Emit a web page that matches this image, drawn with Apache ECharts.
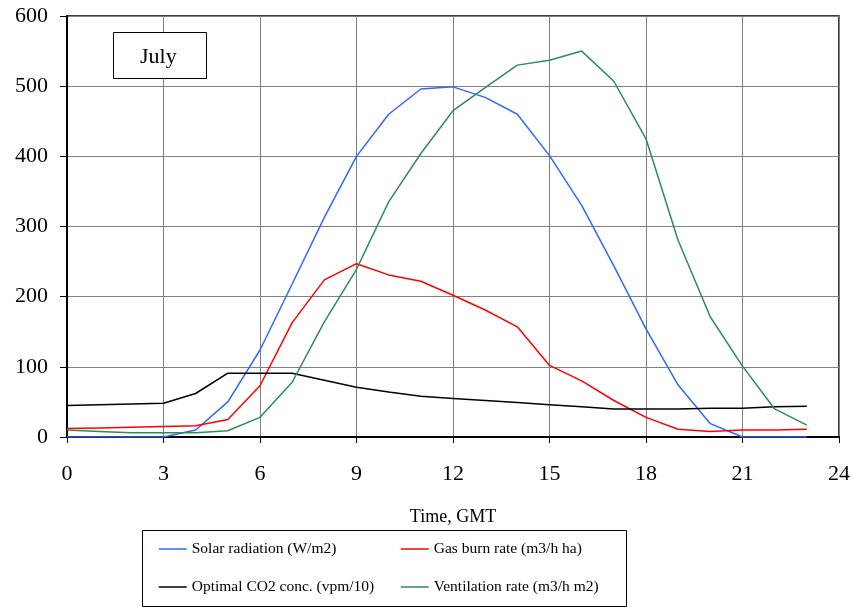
<!DOCTYPE html>
<html>
<head>
<meta charset="utf-8">
<script src="https://cdn.jsdelivr.net/npm/echarts@6/dist/echarts.min.js"></script>
<style>
  html, body { margin: 0; padding: 0; background: #fff; }
  #main { width: 854px; height: 607px; }
</style>
</head>
<body>
<div id="main"></div>
<script>
// hours 0..23, values
var hours = [0,1,2,3,4,5,6,7,8,9,10,11,12,13,14,15,16,17,18,19,20,21,22,23];
var solar = [0,0,0,0,10,50,124,218,313,400,460,496,499,484,460,401,330,244,154,74,19,0,0,0];
var gasBurn = [12,13,14,15,16,25,73,163,224,247,231,222,202,181,157,102,80,52,28,11,8,10,10,11];
var co2 = [45,46,47,48,62,91,91,91,81,71,64,58,55,52,49,46,43,40,40,40,41,41,43,44];
var vent = [10,8,6,6,6,9,28,78,164,239,335,404,465,498,530,537,550,507,425,280,171,101,40,17];

var names = ['Solar radiation (W/m2)', 'Gas burn rate (m3/h ha)',
             'Optimal CO2 conc. (vpm/10)', 'Ventilation rate (m3/h m2)'];
var colors = ['#3366ff', '#ff0000', '#000000', '#2e8b57'];
var font = 'Liberation Serif, Times New Roman, serif';

function pairs(vals){
    return hours.map(function(h, i){ return [h, vals[i]]; });
}

var myChart = echarts.init(document.getElementById('main'));

var allData = [solar, gasBurn, co2, vent];
var series = allData.map(function(d, i){
    return {
        name: names[i],
        type: 'line',
        data: pairs(d),
        symbol: 'none',
        lineStyle: { color: colors[i], width: 1.5 },
        itemStyle: { color: colors[i] }
    };
});

var legendText = { fontFamily: font, fontSize: 15.5, color: '#000' };
// legend: line only, no marker
function legendCol(items, left){
    return {
        data: items,
        orient: 'vertical',
        left: left, top: 541,
        padding: 0,
        itemWidth: 28, itemHeight: 14, itemGap: 22,
        itemStyle: { opacity: 0 },
        lineStyle: { width: 1.5 },
        textStyle: legendText
    };
}

var option = {
    backgroundColor: '#fff',
    animation: false,
    grid: {
        left: 67, top: 16, right: 15, bottom: 170,
        show: true, borderColor: '#000', borderWidth: 1.5
    },
    xAxis: {
        type: 'value',
        min: 0, max: 24, interval: 3,
        name: 'Time, GMT',
        nameLocation: 'middle',
        nameGap: 71,
        nameTextStyle: { fontFamily: font, fontSize: 18, color: '#000' },
        axisLine: { onZero: false, lineStyle: { color: '#000', width: 2 } },
        axisTick: { show: true, length: 6, lineStyle: { color: '#000' } },
        axisLabel: { fontFamily: font, fontSize: 22, color: '#000', margin: 26 },
        splitLine: { show: true, lineStyle: { color: '#808080', width: 1 } }
    },
    yAxis: {
        type: 'value',
        min: 0, max: 600, interval: 100,
        axisLine: { show: true, lineStyle: { color: '#000', width: 2 } },
        axisTick: { show: true, length: 7, lineStyle: { color: '#000' } },
        axisLabel: { fontFamily: font, fontSize: 22, color: '#000', margin: 19 },
        splitLine: { show: true, lineStyle: { color: '#808080', width: 1 } }
    },
    legend: [
        legendCol([names[0], names[2]], 158),
        legendCol([names[1], names[3]], 400)
    ],
    graphic: [
        {
            type: 'rect', left: 140, top: 528,
            shape: { width: 484, height: 76 },
            style: { fill: 'none', stroke: '#000', lineWidth: 1 },
            z: 1
        },
        {
            type: 'rect', left: 113, top: 32,
            shape: { width: 93, height: 46 },
            style: { fill: '#fff', stroke: '#000', lineWidth: 1 },
            z: 10
        },
        {
            type: 'text', left: 140, top: 46,
            style: { text: 'July', fontFamily: font, fontSize: 22, fill: '#000' },
            z: 11
        }
    ],
    series: series
};

myChart.setOption(option);
</script>
</body>
</html>
